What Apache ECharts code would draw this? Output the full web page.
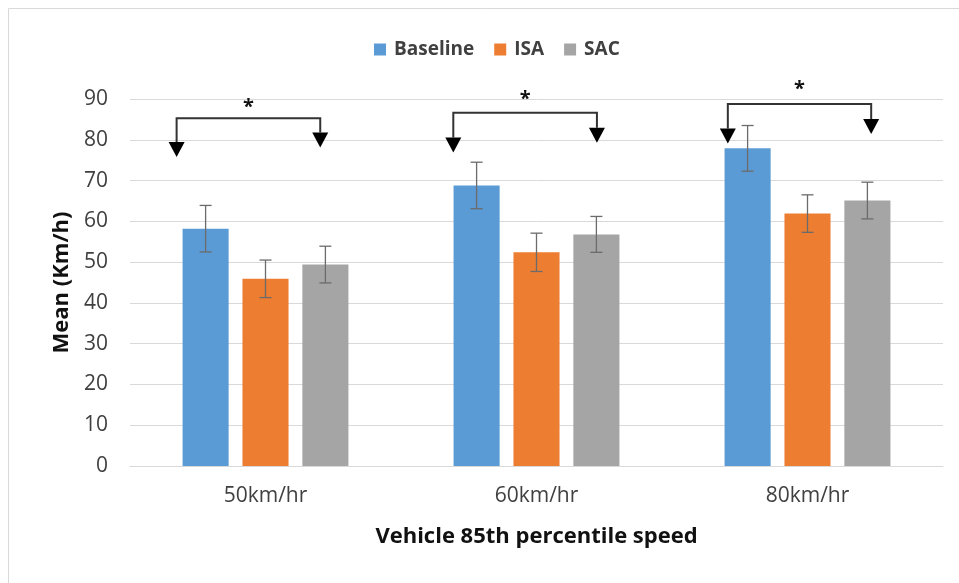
<!DOCTYPE html>
<html><head><meta charset="utf-8">
<script src="https://cdn.jsdelivr.net/npm/echarts@6/dist/echarts.min.js"></script>
<style>html,body{margin:0;padding:0;background:#fff}#c{width:959px;height:583px}</style>
</head><body><div id="c"></div>
<script>
const categories = ['50km/hr', '60km/hr', '80km/hr'];
const seriesNames = ['Baseline', 'ISA', 'SAC'];
const baselineMean = [58.2, 68.8, 77.9];
const isaMean = [45.9, 52.4, 61.9];
const sacMean = [49.4, 56.8, 65.1];
const baselineErr = [5.7, 5.7, 5.6];
const isaErr = [4.6, 4.7, 4.6];
const sacErr = [4.5, 4.4, 4.5];
const yTicks = [0, 10, 20, 30, 40, 50, 60, 70, 80, 90];
// significance annotations (data space: category band units on x, value units on y)
const sigLabel = ['*', '*', '*'];
const sigLeftX = [0.172, 1.193, 2.206];
const sigRightX = [0.702, 1.723, 2.735];
const sigBracketY = [85.3, 86.6, 88.8];
const sigLeftTipY = [75.8, 76.9, 79.1];
const sigRightTipY = [78.1, 79.3, 81.4];
const sigStarY = [88.6, 90.7, 93.0];

const colors = ['#5B9BD5', '#ED7D31', '#A5A5A5'];
const means = [baselineMean, isaMean, sacMean];
const errs = [baselineErr, isaErr, sacErr];
const BAR_FRAC = 0.17, GAP_FRAC = 0.30;
const FONT = 'Open Sans';

const chart = echarts.init(document.getElementById('c'), null, {renderer: 'canvas'});

function errSeries(i) {
  return {
    type: 'custom', name: seriesNames[i] + ' err', silent: true, z: 5,
    xAxisIndex: 0, yAxisIndex: 0,
    data: categories.map((c, k) => [k, means[i][k] - errs[i][k], means[i][k] + errs[i][k]]),
    renderItem: function (params, api) {
      const band = api.size([1, 0])[0];
      const off = (i - 1) * band * BAR_FRAC * (1 + GAP_FRAC);
      const lo = api.coord([api.value(0), api.value(1)]);
      const hi = api.coord([api.value(0), api.value(2)]);
      const x = lo[0] + off, cap = 6;
      const st = {stroke: '#6b6b6b', lineWidth: 1.3};
      return {type: 'group', children: [
        {type: 'line', shape: {x1: x, y1: lo[1], x2: x, y2: hi[1]}, style: st},
        {type: 'line', shape: {x1: x - cap, y1: lo[1], x2: x + cap, y2: lo[1]}, style: st},
        {type: 'line', shape: {x1: x - cap, y1: hi[1], x2: x + cap, y2: hi[1]}, style: st}
      ]};
    }
  };
}

const sigData = sigLabel.map((s, k) => [sigLeftX[k], sigRightX[k], sigBracketY[k], sigLeftTipY[k], sigRightTipY[k], sigStarY[k]]);

const option = {
  animation: false,
  color: colors,
  graphic: [{type: 'rect', shape: {x: 8.5, y: 8.5, width: 1000, height: 1000}, style: {fill: 'none', stroke: '#d9d9d9', lineWidth: 1}, silent: true}],
  legend: {
    data: seriesNames, top: 35, left: 369, icon: 'rect', itemWidth: 12, itemHeight: 12, itemGap: 20,
    textStyle: {fontFamily: FONT, fontSize: 19, fontWeight: 'bold', color: '#404040', padding: [0, 0, 0, 3]}
  },
  grid: {left: 130, right: 16, top: 99, bottom: 117},
  xAxis: [{
    type: 'category', data: categories,
    axisLine: {lineStyle: {color: '#d9d9d9'}}, axisTick: {show: false},
    axisLabel: {fontFamily: FONT, fontSize: 21, color: '#404040', margin: 20},
    name: 'Vehicle 85th percentile speed', nameLocation: 'middle', nameGap: 60,
    nameTextStyle: {fontFamily: FONT, fontSize: 22, fontWeight: 'bold', color: '#111'}
  }, {
    type: 'value', min: 0, max: 3, show: false
  }],
  yAxis: {
    type: 'value', min: yTicks[0], max: yTicks[yTicks.length - 1], interval: 10,
    axisLine: {show: false}, axisTick: {show: false},
    splitLine: {lineStyle: {color: '#d9d9d9', width: 1}},
    axisLabel: {fontFamily: FONT, fontSize: 21, color: '#404040', margin: 22},
    name: 'Mean (Km/h)', nameLocation: 'middle', nameGap: 57, nameRotate: 90,
    nameTextStyle: {fontFamily: FONT, fontSize: 22, fontWeight: 'bold', color: '#111'}
  },
  series: [
    ...seriesNames.map((n, i) => ({
      type: 'bar', name: n, data: means[i], barWidth: (BAR_FRAC * 100) + '%', barGap: (GAP_FRAC * 100) + '%',
      itemStyle: {color: colors[i]}
    })),
    errSeries(0), errSeries(1), errSeries(2),
    {
      type: 'custom', name: 'sig', silent: true, z: 6, clip: false,
      xAxisIndex: 1, yAxisIndex: 0,
      data: sigData,
      renderItem: function (params, api) {
        const L = api.coord([api.value(0), api.value(2)]);
        const R = api.coord([api.value(1), api.value(2)]);
        const lt = api.coord([api.value(0), api.value(3)]);
        const rt = api.coord([api.value(1), api.value(4)]);
        const st = api.coord([(api.value(0) + api.value(1)) / 2, api.value(5)]);
        const hw = 8, hh = 15;
        const ls = {stroke: '#333', lineWidth: 2, fill: 'none'};
        return {type: 'group', children: [
          {type: 'polyline', shape: {points: [[lt[0], lt[1] - hh], [L[0], L[1]], [R[0], R[1]], [rt[0], rt[1] - hh]]}, style: ls},
          {type: 'polygon', shape: {points: [[lt[0] - hw, lt[1] - hh], [lt[0] + hw, lt[1] - hh], [lt[0], lt[1]]]}, style: {fill: '#000'}},
          {type: 'polygon', shape: {points: [[rt[0] - hw, rt[1] - hh], [rt[0] + hw, rt[1] - hh], [rt[0], rt[1]]]}, style: {fill: '#000'}},
          {type: 'text', x: st[0], y: st[1] - 7, style: {text: sigLabel[params.dataIndex], font: 'bold 20px "Open Sans"', fill: '#111', align: 'center', verticalAlign: 'top'}}
        ]};
      }
    }
  ]
};
chart.setOption(option);
</script></body></html>
